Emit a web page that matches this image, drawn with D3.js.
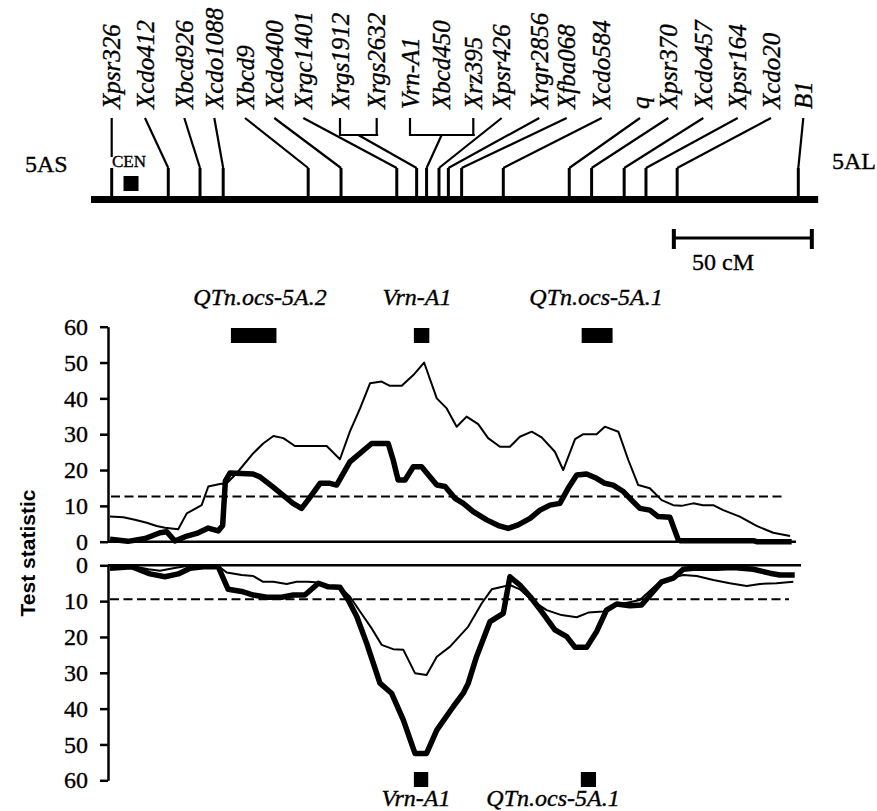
<!DOCTYPE html>
<html><head><meta charset="utf-8">
<script src="https://cdn.jsdelivr.net/npm/d3@7/dist/d3.min.js"></script>
<style>body{margin:0;background:#fff}svg{display:block}</style>
</head><body>
<svg id="c" width="877" height="811"></svg>
<script>
// ---------------- DATA ----------------
const markerNames = ["Xpsr326","Xcdo412","Xbcd926","Xcdo1088","Xbcd9","Xcdo400","Xrgc1401","Xrgs1912","Xrgs2632","Vrn-A1","Xbcd450","Xrz395","Xpsr426","Xrgr2856","Xfba068","Xcdo584","q","Xpsr370","Xcdo457","Xpsr164","Xcdo20","B1"];
const markerCM = [0,20.5,32.0,40.4,71.2,83.1,103.3,110.5,110.5,114.1,114.1,114.1,118.6,122.0,126.8,141.9,165.8,173.9,185.7,193.6,204.9,248.8];
const chromCM = [-7.5, 256];
const centromereCM = 7.0;
const scaleBarCM = [203.7, 253.7];
const yTicks = [0,10,20,30,40,50,60];
const upperThreshold = 12.6;
const lowerThreshold = 9.5;

const upperQTL = [
  {name:"QTn.ocs-5A.2", from:43.2, to:59.7},
  {name:"Vrn-A1", from:109.5, to:115.1},
  {name:"QTn.ocs-5A.1", from:170.3, to:181.5}
];
const lowerQTL = [
  {name:"Vrn-A1", from:109.5, to:114.7},
  {name:"QTn.ocs-5A.1", from:170.0, to:175.5}
];

const upperThin = [[-0.6,7.0],[4.2,6.8],[8.4,6.1],[12.7,5.3],[16.3,4.4],[19.3,3.9],[24.1,3.5],[27.2,7.9],[32.6,10.2],[35.0,15.4],[39.2,16.1],[41.7,16.3],[45.3,19.1],[51.3,24.7],[54.9,27.4],[58.6,29.5],[62.2,28.9],[66.4,26.7],[73.0,26.7],[77.9,26.7],[82.7,23.0],[86.3,30.7],[90.0,37.2],[93.6,44.2],[97.8,44.7],[100.8,43.5],[105.1,43.5],[109.3,46.5],[113.2,50.0],[117.8,40.0],[121.4,37.2],[125.0,32.1],[128.6,34.9],[132.8,32.8],[136.4,28.9],[140.7,26.5],[144.3,26.5],[147.9,29.3],[152.2,30.7],[155.8,29.1],[160.6,25.1],[163.6,20.0],[167.9,28.6],[170.9,30.0],[175.7,30.0],[178.7,32.1],[183.6,30.7],[187.2,22.8],[190.8,15.8],[195.0,14.9],[199.3,11.6],[203.5,10.2],[206.5,10.0],[210.7,10.7],[214.3,10.2],[218.0,10.2],[221.6,8.8],[227.6,7.0],[233.7,4.4],[239.7,2.5],[245.8,1.6]];

const upperThick = [[-0.6,0.7],[5.9,0.1],[12.1,0.9],[17.5,2.5],[19.9,2.8],[22.9,0.2],[26.6,1.4],[30.8,2.3],[35.0,3.8],[38.6,3.0],[40.2,4.5],[41.2,17.0],[42.9,19.2],[51.2,18.9],[53.7,18.1],[58.4,15.3],[65.7,10.7],[68.8,9.3],[71.1,11.6],[75.5,16.3],[79.1,16.3],[81.5,15.8],[86.3,22.3],[94.2,27.4],[100.2,27.4],[102.0,22.8],[103.8,17.2],[106.3,17.2],[109.3,20.9],[112.3,20.9],[115.3,18.1],[117.8,15.8],[120.8,15.4],[124.4,12.1],[127.4,10.7],[131.0,8.4],[135.9,6.1],[140.1,4.5],[143.7,3.7],[147.3,4.7],[151.6,6.5],[155.2,8.8],[158.8,10.2],[162.4,10.7],[165.4,14.9],[168.5,18.6],[172.1,18.9],[175.7,17.7],[178.7,16.3],[181.7,15.8],[185.4,14.0],[188.4,11.6],[191.4,9.3],[195.0,8.8],[198.0,7.0],[202.3,6.8],[205.3,0.5],[206.0,0.3],[232.5,0.3],[233.7,0],[246.4,0]];

const lowerThin = [[-0.6,1.1],[7.2,0.2],[13.3,1.1],[17.5,1.5],[22.3,0.8],[27.2,0.2],[38.6,0.2],[41.7,2.0],[47.1,2.7],[51.3,3.0],[54.9,4.6],[58.6,4.6],[63.4,5.2],[67.0,4.6],[71.2,4.6],[74.9,4.8],[77.9,5.8],[82.7,6.1],[86.3,8.7],[90.0,12.9],[94.2,17.6],[97.8,22.2],[102.0,23.4],[105.7,23.6],[109.9,30.1],[114.1,30.6],[117.8,25.5],[122.6,22.7],[129.2,17.1],[134.1,10.6],[137.7,6.7],[144.3,5.5],[147.9,6.7],[152.2,9.7],[157.6,12.5],[163.0,13.9],[168.5,14.5],[172.7,13.2],[178.1,12.9],[183.0,11.1],[191.4,9.7],[198.6,4.6],[204.1,3.3],[207.1,2.7],[212.0,3.0],[218.0,4.1],[224.0,5.0],[230.1,5.8],[234.9,5.2],[240.9,5.0],[247.0,4.6]];

const lowerThick = [[-0.6,0.8],[7.2,0.4],[13.9,2.4],[19.3,3.2],[24.1,2.4],[28.4,0.8],[33.2,0.4],[38.6,0.4],[42.2,6.7],[47.1,7.3],[51.3,8.3],[56.2,8.9],[61.6,8.9],[65.8,8.3],[70.0,8.3],[74.9,5.0],[78.5,6.0],[82.7,6.1],[85.7,9.7],[88.8,14.3],[92.4,21.8],[97.2,32.9],[101.4,35.7],[105.7,43.2],[109.9,52.5],[114.1,52.5],[117.8,46.0],[123.8,39.4],[127.4,35.7],[129.2,32.9],[132.2,25.5],[137.1,15.7],[141.9,13.4],[144.3,3.2],[147.9,5.5],[151.6,8.7],[155.8,12.9],[160.6,18.0],[164.9,19.9],[167.9,22.9],[172.1,22.9],[175.7,18.5],[179.3,12.5],[183.0,10.8],[187.8,11.3],[192.0,11.1],[195.7,7.8],[199.3,4.6],[203.5,3.6],[207.1,1.1],[210.7,0.8],[219.2,0.8],[225.2,0.6],[232.5,1.1],[238.5,2.2],[242.1,2.7],[247.5,2.7]];

// ---------------- LAYOUT ----------------
const labelX = [111.7,145,184.3,214.3,245,274.3,303.3,340,376.7,410,441.7,473.3,501.7,539.3,566.7,601.7,640,668.3,703.3,737.7,771,803.3];
const serif = "'Liberation Serif','Times New Roman',serif";
const svg = d3.select("#c");
const x = d3.scaleLinear().domain([0, 248.8]).range([111.7, 798.3]);
const yU = d3.scaleLinear().domain([0, 60]).range([541.7, 326.7]);
const yL = d3.scaleLinear().domain([0, 60]).range([565.3, 780.3]);
const axisX = 108;

function txt(sel){ return sel.attr("font-family",serif).attr("fill","#000").attr("stroke","#000").attr("stroke-width",0.35); }

// ---------- chromosome map ----------
const barY = 199.5, tickTop = 168, labTop = 118, brY = 135;
const m = svg.append("g");
m.append("line").attr("x1", x(chromCM[0])).attr("x2", x(chromCM[1]))
  .attr("y1", barY).attr("y2", barY).attr("stroke","#000").attr("stroke-width",7);

const groups = [];
markerCM.forEach((c,i)=>{
  const g = groups.length ? groups[groups.length-1] : null;
  if (g && g.cM === c) g.idx.push(i); else groups.push({cM:c, idx:[i]});
});
groups.forEach(g=>{
  const tx = x(g.cM);
  m.append("line").attr("x1",tx).attr("x2",tx).attr("y1",tickTop).attr("y2",barY-3)
    .attr("stroke","#000").attr("stroke-width",3);
  if (g.idx.length === 1) {
    const lx = labelX[g.idx[0]];
    if (Math.abs(lx - tx) < 1) {
      m.append("line").attr("x1",lx).attr("x2",lx).attr("y1",labTop).attr("y2",157).attr("stroke","#000").attr("stroke-width",2.2);
    } else {
      m.append("line").attr("x1",lx).attr("x2",tx).attr("y1",labTop).attr("y2",tickTop).attr("stroke","#000").attr("stroke-width",2.2);
    }
  } else {
    const a = labelX[g.idx[0]], b = labelX[g.idx[g.idx.length-1]];
    m.append("path").attr("d",`M${a},${labTop}V${brY}H${b+1.5}M${b},${labTop}V${brY}`)
      .attr("stroke","#000").attr("stroke-width",2.2).attr("fill","none");
    m.append("line").attr("x1",(a+b)/2).attr("x2",tx).attr("y1",brY).attr("y2",tickTop).attr("stroke","#000").attr("stroke-width",2.2);
  }
});
markerNames.forEach((n,i)=>{
  txt(m.append("text").attr("transform",`translate(${labelX[i]+8.5},109) rotate(-90)`))
    .attr("font-style","italic").attr("font-size",25).text(n);
});
txt(svg.append("text").attr("x",25).attr("y",172)).attr("font-size",24).text("5AS");
txt(svg.append("text").attr("x",832).attr("y",169)).attr("font-size",24).text("5AL");
txt(svg.append("text").attr("x",112).attr("y",167)).attr("font-size",17).text("CEN");
svg.append("rect").attr("x",x(centromereCM)-7.5).attr("y",176).attr("width",15).attr("height",15).attr("fill","#000");
const sb = svg.append("g").attr("stroke","#000");
sb.append("line").attr("x1",x(scaleBarCM[0])).attr("x2",x(scaleBarCM[1])).attr("y1",238).attr("y2",238).attr("stroke-width",3);
scaleBarCM.forEach(c=>sb.append("line").attr("x1",x(c)).attr("x2",x(c)).attr("y1",229).attr("y2",249).attr("stroke-width",4));
txt(svg.append("text").attr("x",692).attr("y",270)).attr("font-size",24).text((scaleBarCM[1]-scaleBarCM[0])+" cM");

// ---------- axes ----------
function drawAxis(scale){
  const g = svg.append("g").attr("transform",`translate(${axisX},0)`)
    .call(d3.axisLeft(scale).tickValues(yTicks).tickSize(8).tickSizeOuter(0).tickPadding(12));
  g.select(".domain").attr("stroke","#000").attr("stroke-width",2.5);
  g.selectAll(".tick line").attr("stroke","#000").attr("stroke-width",2.5);
  txt(g.selectAll(".tick text")).attr("font-size",24);
}
drawAxis(yU); drawAxis(yL);
svg.append("line").attr("x1",axisX).attr("x2",796).attr("y1",yU(0)).attr("y2",yU(0)).attr("stroke","#000").attr("stroke-width",2.5);
svg.append("line").attr("x1",axisX).attr("x2",801).attr("y1",yL(0)).attr("y2",yL(0)).attr("stroke","#000").attr("stroke-width",2.5);
svg.append("line").attr("x1",111).attr("x2",786).attr("y1",yU(upperThreshold)).attr("y2",yU(upperThreshold))
  .attr("stroke","#000").attr("stroke-width",2).attr("stroke-dasharray","9,4.5");
svg.append("line").attr("x1",110).attr("x2",789).attr("y1",yL(lowerThreshold)).attr("y2",yL(lowerThreshold))
  .attr("stroke","#000").attr("stroke-width",2).attr("stroke-dasharray","9,4.5");

svg.append("text").attr("transform","translate(35,553) rotate(-90)").attr("text-anchor","middle")
  .attr("font-family","'Liberation Sans',Arial,sans-serif").attr("font-weight","bold").attr("font-size",21).text("Test statistic");

// ---------- curves ----------
function curve(data, ys, w){
  const line = d3.line().x(d=>x(d[0])).y(d=>ys(d[1]));
  svg.append("path").attr("d",line(data)).attr("fill","none").attr("stroke","#000")
    .attr("stroke-width",w).attr("stroke-linejoin","round").attr("stroke-linecap","butt");
}
curve(upperThin, yU, 2); curve(upperThick, yU, 5.5);
curve(lowerThin, yL, 2); curve(lowerThick, yL, 5.5);

// ---------- QTL boxes ----------
const upLabelX = [260, 417, 596];
upperQTL.forEach((q,i)=>{
  svg.append("rect").attr("x",x(q.from)).attr("width",x(q.to)-x(q.from)).attr("y",328).attr("height",15).attr("fill","#000");
  txt(svg.append("text").attr("x",upLabelX[i]).attr("y",305).attr("text-anchor","middle"))
    .attr("font-style","italic").attr("font-size",24).text(q.name);
});
const loLabelX = [416, 553];
lowerQTL.forEach((q,i)=>{
  svg.append("rect").attr("x",x(q.from)).attr("width",x(q.to)-x(q.from)).attr("y",772).attr("height",15).attr("fill","#000");
  txt(svg.append("text").attr("x",loLabelX[i]).attr("y",806).attr("text-anchor","middle"))
    .attr("font-style","italic").attr("font-size",24).text(q.name);
});
</script>
</body></html>
